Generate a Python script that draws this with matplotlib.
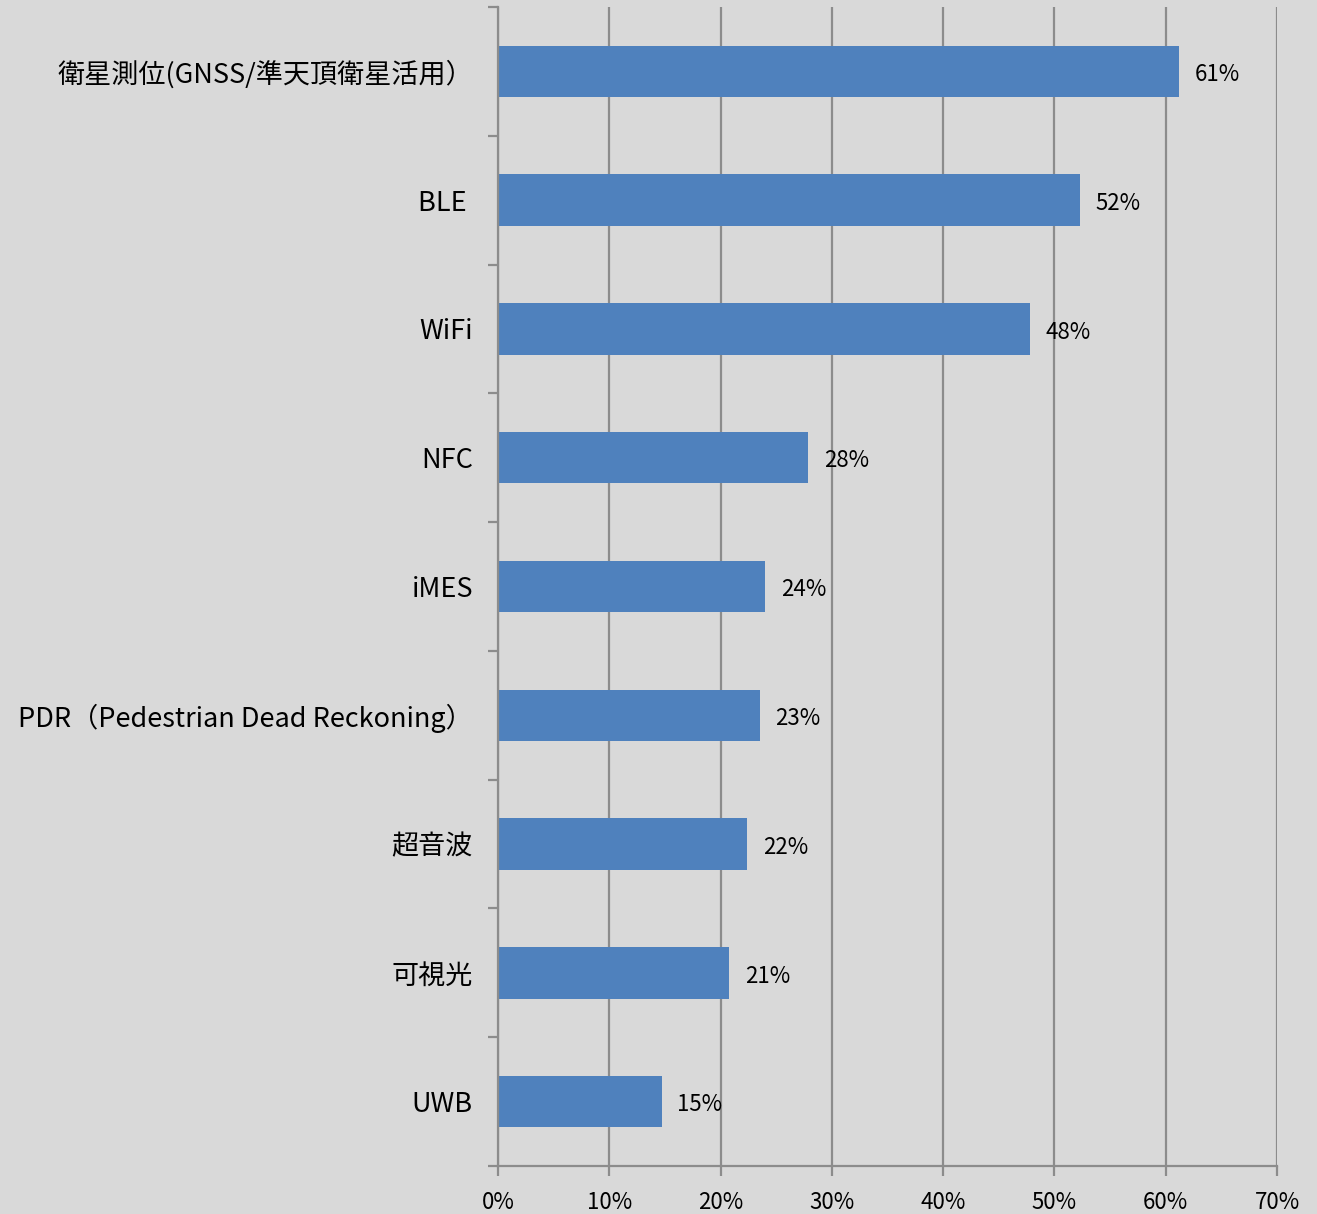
import numpy as np
import matplotlib.pyplot as plt
from matplotlib.ticker import FixedLocator, PercentFormatter

plt.rcParams['font.family'] = ['Noto Sans CJK JP', 'DejaVu Sans']

categories = ['衛星測位(GNSS/準天頂衛星活用）', 'BLE ', 'WiFi', 'NFC', 'iMES',
              'PDR（Pedestrian Dead Reckoning）', '超音波', '可視光', 'UWB']
values = [61.2, 52.3, 47.8, 27.9, 24.0, 23.5, 22.4, 20.8, 14.7]
labels = ['61%', '52%', '48%', '28%', '24%', '23%', '22%', '21%', '15%']

bg = '#d9d9d9'
bar_color = '#4f81bd'
grid_color = '#8c8c8c'

fig = plt.figure(figsize=(13.17, 12.14), dpi=100, facecolor=bg)
ax = fig.add_axes([498/1317, 1 - 1166/1214, (1277-498)/1317, (1166-7)/1214])
ax.set_facecolor(bg)

n = len(categories)
y = np.arange(n)
ax.barh(y, values, height=0.4, color=bar_color, zorder=3)
for yi, v, lab in zip(y, values, labels):
    ax.text(v + 1.4, yi + 0.025, lab, va='center', ha='left', fontsize=16, zorder=4)

ax.set_xlim(0, 70)
ax.set_ylim(n - 0.5, -0.5)
ax.set_xticks(np.arange(0, 71, 10))
ax.xaxis.set_major_formatter(PercentFormatter(decimals=0))
ax.grid(axis='x', color=grid_color, linewidth=1.6, zorder=1)

ax.set_yticks(y)
ax.set_yticklabels(categories, fontsize=19.5)
ax.yaxis.set_minor_locator(FixedLocator(np.arange(-0.5, n, 1)))
ax.tick_params(axis='y', which='major', length=0, pad=18)
ax.tick_params(axis='y', which='minor', length=7, width=1.6, color=grid_color)
ax.tick_params(axis='x', length=7, width=1.6, color=grid_color, labelsize=16, pad=11)

for side in ['top', 'right']:
    ax.spines[side].set_visible(False)
for side in ['left', 'bottom']:
    ax.spines[side].set_color(grid_color)
    ax.spines[side].set_linewidth(1.6)
    ax.spines[side].set_zorder(5)

fig.savefig('out.png', dpi=100, facecolor=bg)
